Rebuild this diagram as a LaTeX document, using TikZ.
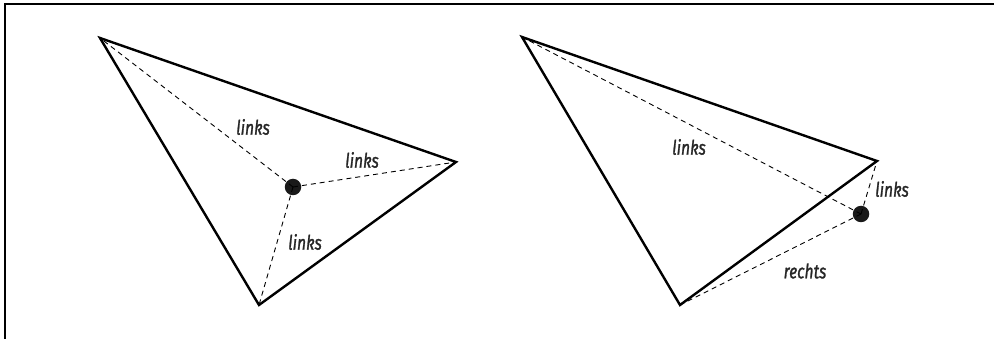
\documentclass[tikz,border=0pt]{standalone}
\usepackage{fontspec}
\newfontfamily\labfont[FakeStretch=0.78,FakeBold=1.2]{Fira Sans}
\begin{document}
\begin{tikzpicture}[x=1pt,y=-1pt,
  edge/.style={line width=2.4pt,line join=miter},
  aux/.style={line width=0.9pt,dash pattern=on 5pt off 4pt},
  pt/.style={circle,fill=black!90,inner sep=0pt,minimum size=16.5pt},
  lab/.style={font=\labfont\itshape\fontsize{20}{20}\selectfont,text=black!85,inner sep=0pt}]
\useasboundingbox (0,0) rectangle (994,339);
\coordinate (fl) at (5,339);
\coordinate (ftl) at (5,4);
\coordinate (ftr) at (994,4);
\draw[line width=2pt] (fl) -- (ftl) -- (ftr);
% left triangle
\coordinate (A1) at (100,38);
\coordinate (B1) at (456,162);
\coordinate (C1) at (259,305);
\node[pt] (P1) at (293,187) {};
\draw[aux] (P1.center) -- (A1);
\draw[aux] (P1.center) -- (B1);
\draw[aux] (P1.center) -- (C1);
\draw[edge] (A1) -- (B1) -- (C1) -- cycle;
\node[lab] (l1) at (253,127) {links};
\node[lab] (l2) at (362,160) {links};
\node[lab] (l3) at (305,242) {links};
% right triangle
\coordinate (A2) at (522,37);
\coordinate (B2) at (877,161);
\coordinate (C2) at (680,305);
\node[pt] (P2) at (861,214) {};
\draw[aux] (P2.center) -- (A2);
\draw[aux] (P2.center) -- (B2);
\draw[aux] (P2.center) -- (C2);
\draw[edge] (A2) -- (B2) -- (C2) -- cycle;
\node[lab] (l4) at (689,147) {links};
\node[lab] (l5) at (892,189) {links};
\node[lab] (l6) at (805,271) {rechts};
\end{tikzpicture}
\end{document}
